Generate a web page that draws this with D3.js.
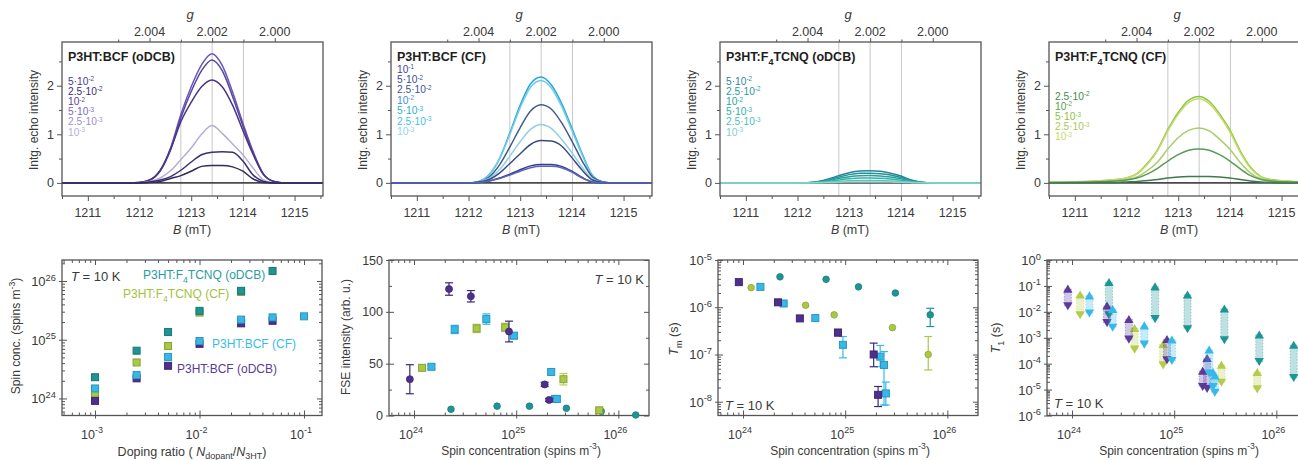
<!DOCTYPE html>
<html><head><meta charset="utf-8">
<script src="https://cdn.jsdelivr.net/npm/d3@7"></script>
<style>
body{margin:0;background:#fff;}
svg{display:block;font-family:"Liberation Sans",Arial,sans-serif;}
</style></head><body>
<svg id="c" width="1298" height="460"></svg>
<script>
// ---------------- DATA ----------------
// magnetic field grid (mT) for echo-detected spectra
const fieldB = [1210.5,1211.4,1211.8,1212.0,1212.2,1212.4,1212.6,1212.8,1213.0,1213.2,1213.4,1213.6,1213.8,1214.0,1214.2,1214.4,1214.6,1214.8,1215.2,1215.55];
const gTickLabels = [2.004, 2.002, 2.000];
const gLines = [2.003, 2.002, 2.001];

// Panel 1: P3HT:BCF (oDCB)
const specBcfO = [
 [0,0,0,0.01,0.06,0.26,0.72,1.41,1.98,2.43,2.66,2.42,1.87,1.23,0.64,0.18,0.03,0,0,0],
 [0,0,0,0.01,0.06,0.25,0.69,1.34,1.88,2.31,2.53,2.31,1.78,1.17,0.61,0.17,0.03,0,0,0],
 [0,0,0,0.01,0.06,0.25,0.68,1.26,1.66,1.98,2.12,1.98,1.6,1.08,0.58,0.17,0.03,0,0,0],
 [0,0,0,0,0.03,0.1,0.25,0.48,0.72,1.0,1.18,1.02,0.8,0.58,0.3,0.06,0,0,0,0],
 [0,0,0,0,0.02,0.06,0.13,0.26,0.43,0.58,0.63,0.64,0.63,0.45,0.16,0.03,0,0,0,0],
 [0,0,0,0,0.01,0.03,0.09,0.15,0.24,0.34,0.36,0.36,0.33,0.24,0.08,0.01,0,0,0,0]];
const specBcfOColors = ["#6a55b5","#5a45a0","#4a3585","#b4aed2","#3c2f75","#33295e"];
const legBcfO = [["5·10","-2"],["2.5·10","-2"],["10","-2"],["5·10","-3"],["2.5·10","-3"],["10","-3"]];
const legBcfOColors = ["#4a3a8c","#3e2a78","#5b3fa0","#7e6ab9","#9d8fcc","#b8aee0"];

// Panel 2: P3HT:BCF (CF)
const specBcfC = [
 [0,0,0,0,0.03,0.17,0.5,1.03,1.6,2.04,2.18,2.02,1.64,1.13,0.6,0.15,0.02,0,0,0],
 [0,0,0,0,0.03,0.16,0.5,1.0,1.55,1.97,2.11,1.96,1.58,1.08,0.57,0.14,0.02,0,0,0],
 [0,0,0,0,0.02,0.12,0.37,0.74,1.14,1.48,1.61,1.52,1.24,0.86,0.45,0.12,0.02,0,0,0],
 [0,0,0,0,0.02,0.09,0.27,0.55,0.85,1.1,1.2,1.12,0.9,0.62,0.32,0.08,0.01,0,0,0],
 [0,0,0,0,0.02,0.07,0.2,0.4,0.6,0.79,0.87,0.86,0.76,0.52,0.26,0.06,0.01,0,0,0],
 [0,0,0,0,0.01,0.04,0.1,0.18,0.27,0.35,0.38,0.38,0.34,0.24,0.11,0.02,0,0,0,0],
 [0,0,0,0,0.01,0.04,0.09,0.16,0.24,0.31,0.34,0.34,0.31,0.22,0.1,0.02,0,0,0,0]];
const specBcfCColors = ["#23a9d6","#72cbe6","#3f5d8e","#8fd0e3","#3b4a82","#3a3a8a","#5566b8"];
const legBcfC = [["10","-1"],["5·10","-2"],["2.5·10","-2"],["10","-2"],["5·10","-3"],["2.5·10","-3"],["10","-3"]];
const legBcfCColors = ["#4a3d9a","#3a4aa0","#3d5290","#3a8fd6","#2ab0d8","#45c0e8","#8fd8f0"];

// Panel 3: P3HT:F4TCNQ (oDCB)
const specF4O = [
 [0,0,0,0,0.005,0.03,0.08,0.15,0.21,0.245,0.25,0.24,0.2,0.14,0.06,0.015,0,0,0,0],
 [0,0,0,0,0.004,0.024,0.066,0.12,0.17,0.196,0.2,0.19,0.16,0.11,0.05,0.012,0,0,0,0],
 [0,0,0,0,0.003,0.018,0.05,0.09,0.126,0.147,0.15,0.144,0.12,0.083,0.038,0.009,0,0,0,0],
 [0,0,0,0,0.002,0.012,0.033,0.06,0.084,0.098,0.1,0.096,0.08,0.055,0.025,0.006,0,0,0,0],
 [0,0,0,0,0.001,0.006,0.017,0.03,0.042,0.049,0.05,0.048,0.04,0.028,0.013,0.003,0,0,0,0],
 [0,0,0,0,0,0.002,0.007,0.012,0.017,0.02,0.02,0.019,0.016,0.011,0.005,0.001,0,0,0,0]];
const specF4OColors = ["#2f7f99","#1f9595","#22a3a0","#3ab0aa","#5cc2bb","#8ad4cc"];
const legF4O = [["5·10","-2"],["2.5·10","-2"],["10","-2"],["5·10","-3"],["2.5·10","-3"],["10","-3"]];
const legF4OColors = ["#3a7fa0","#2a9a9a","#25a5a5","#30b0a8","#50c0b8","#80d0c8"];

// Panel 4: P3HT:F4TCNQ (CF)
const specF4C = [
 [0.01,0.04,0.07,0.1,0.19,0.4,0.68,1.1,1.45,1.7,1.78,1.68,1.42,1.09,0.66,0.32,0.13,0.07,0.03,0.02],
 [0.01,0.04,0.07,0.1,0.18,0.38,0.66,1.07,1.41,1.65,1.73,1.63,1.38,1.05,0.63,0.3,0.12,0.06,0.03,0.02],
 [0.01,0.03,0.05,0.07,0.12,0.25,0.43,0.7,0.93,1.08,1.13,1.07,0.9,0.69,0.42,0.2,0.08,0.04,0.02,0.01],
 [0.01,0.02,0.04,0.06,0.1,0.18,0.3,0.45,0.58,0.67,0.7,0.67,0.58,0.45,0.29,0.15,0.07,0.04,0.02,0.01],
 [0,0.01,0.01,0.02,0.03,0.05,0.07,0.1,0.12,0.13,0.13,0.13,0.12,0.1,0.07,0.04,0.02,0.01,0,0]];
const specF4CColors = ["#8cc63f","#c2dc6a","#a9cc6a","#5a9a5a","#3f7a4a"];
const legF4C = [["2.5·10","-2"],["10","-2"],["5·10","-3"],["2.5·10","-3"],["10","-3"]];
const legF4CColors = ["#3c8c4c","#5ca048","#8cc43c","#a8cc58","#c4dc6c"];

// Bottom panels: per material
const dopBcfO = [1e-3,2.5e-3,5e-3,1e-2,2.5e-2,5e-2];
const spinBcfO = [9.1e23,2.2e24,3.6e24,8.5e24,1.9e25,2.1e25];
const fseBcfO = [35,122,115,81,30,15];
const fseErrBcfO = [14,6,5.5,10,2,1.5];
const tmBcfO = [3.4e-6,1.27e-6,5.8e-7,2.9e-7,1.0e-7,1.4e-8];
const tmLoBcfO = [null,null,null,2.5e-7,5.5e-8,7.9e-9];
const tmHiBcfO = [null,null,null,3.4e-7,1.74e-7,2.1e-8];
const t1HiBcfO = [7.6e-2,1.7e-2,5.1e-3,8.7e-4,5.2e-5,1.6e-4];
const t1LoBcfO = [1.7e-2,3.8e-3,8.7e-4,1.4e-4,1.3e-5,1.1e-5];

const dopBcfC = [1e-3,2.5e-3,5e-3,1e-2,2.5e-2,5e-2,1e-1];
const spinBcfC = [1.48e24,2.5e24,5.1e24,9.5e24,2.2e25,2.4e25,2.5e25];
const fseBcfC = [47,83,93,77,42,16,16];
const fseErrBcfC = [2,4,5,3,2,2,2];
const tmBcfC = [2.7e-6,1.2e-6,5.9e-7,1.6e-7,9e-8,6e-8,1.5e-8];
const tmLoBcfC = [null,null,null,8.5e-8,5.5e-8,8.5e-9,8.5e-9];
const tmHiBcfC = [null,null,null,2.4e-7,1.55e-7,1.15e-7,2.6e-8];
const t1HiBcfC = [4.2e-2,1.26e-2,2.9e-3,8.3e-4,3.4e-4,4.6e-5,3.4e-5];
const t1LoBcfC = [8.9e-3,2.5e-3,5.6e-4,1.3e-4,4.3e-5,1.3e-5,7.8e-6];

const dopF4O = [1e-3,2.5e-3,5e-3,1e-2,2.5e-2,5e-2];
const spinF4O = [2.3e24,6.5e24,1.35e25,3.1e25,6.8e25,1.48e26];
const fseF4O = [6,9,9,7,4,0.5];
const tmF4O = [4.4e-6,3.9e-6,2.7e-6,2.0e-6,6.9e-7];
const tmLoF4O = [null,null,null,null,3.9e-7];
const tmHiF4O = [null,null,null,null,9.5e-7];
const t1HiF4O = [0.138,9.3e-2,4.5e-2,1.3e-2,1.3e-3,5.2e-4];
const t1LoF4O = [7.6e-3,5.4e-3,2.2e-3,8.3e-4,1.2e-4,2.9e-5];

const dopF4C = [1e-3,2.5e-3,5e-3,1e-2,2.5e-2];
const spinF4C = [1.2e24,4.1e24,7.8e24,2.9e25,6.5e25];
const fseF4C = [46,84,85,35,5];
const fseErrF4C = [2,4,4,5.5,1.5];
const tmF4C = [2.6e-6,1.1e-6,6.9e-7,3.7e-7,1.0e-7];
const tmLoF4C = [null,null,null,null,4.7e-8];
const tmHiF4C = [null,null,null,null,2.4e-7];
const t1HiF4C = [4.5e-2,2.3e-3,5.6e-4,8.9e-5,4.6e-5];
const t1LoF4C = [7.6e-3,3.6e-4,8.9e-5,1.9e-5,1.05e-5];

const cPurple = "#4e2f8c", cCyan = "#36b9e9", cGreen = "#a9c843", cTeal = "#1d9595";

// ---------------- DRAWING ----------------
const svg = d3.select("#c");
svg.append("rect").attr("width",1298).attr("height",460).attr("fill","#fff");
const AX = "#555", TXT = "#3a3a3a";

function rich(t, parts, fs, supK=0.42, supS=0.72) {
  let shift = 0;
  parts.forEach(p => {
    if (typeof p === "string") p = {t:p};
    const target = p.sup ? -supK*fs : (p.sub ? 0.3*fs : 0);
    const ts = t.append("tspan").text(p.t).attr("dy", target - shift);
    if (p.sup || p.sub) ts.attr("font-size", fs*supS);
    if (p.i) ts.attr("font-style","italic");
    shift = target;
  });
  return t;
}
function txt(g, x, y, parts, fs, opt={}) {
  const t = g.append("text").attr("x",x).attr("y",y).attr("font-size",fs)
    .attr("fill",opt.fill||TXT).attr("text-anchor",opt.anchor||"start");
  if (opt.weight) t.attr("font-weight",opt.weight);
  if (opt.rot) t.attr("transform",`rotate(-90,${x},${y})`);
  return rich(t, parts, fs, opt.supK||0.42, opt.supS||0.72);
}
function ticks(g, axisFn, scale, vals, size, tr, stroke=AX) {
  g.append("g").attr("transform",tr)
    .call(axisFn(scale).tickValues(vals).tickSize(size).tickFormat(""))
    .call(s => s.select(".domain").remove())
    .selectAll("line").attr("stroke",stroke).attr("stroke-width",1);
}

// ----- top panels -----
const topL = [62,391,720,1049], topW = 261, topT = 42, topB = 196;
const C_G = 1213.4*2.002;
const topPanels = [
  {title:["P3HT:BCF (oDCB)"], spec:specBcfO, colors:specBcfOColors, leg:legBcfO, legC:legBcfOColors, legY:84.5, legDy:10.2},
  {title:["P3HT:BCF (CF)"], spec:specBcfC, colors:specBcfCColors, leg:legBcfC, legC:legBcfCColors, legY:72.5, legDy:10.4},
  {title:["P3HT:F",{t:"4",sub:true},"TCNQ (oDCB)"], spec:specF4O, colors:specF4OColors, leg:legF4O, legC:legF4OColors, legY:84.5, legDy:10.2},
  {title:["P3HT:F",{t:"4",sub:true},"TCNQ (CF)"], spec:specF4C, colors:specF4CColors, leg:legF4C, legC:legF4CColors, legY:99.5, legDy:10.2}
];
topPanels.forEach((p,i) => {
  const L = topL[i], R = L+topW;
  const g = svg.append("g");
  const x = d3.scaleLinear().domain([1210.5,1215.55]).range([L,R]);
  const y = d3.scaleLinear().domain([-0.27,2.9]).range([topB,topT]);
  const gx = d3.scaleLinear().domain([C_G/1210.5, C_G/1215.55]).range([L,R]);
  g.selectAll(".gl").data(gLines).join("line")
    .attr("x1",d=>gx(d)).attr("x2",d=>gx(d)).attr("y1",topT).attr("y2",topB)
    .attr("stroke","#c8c8c8").attr("stroke-width",1);
  g.append("line").attr("x1",L).attr("x2",R).attr("y1",y(0)).attr("y2",y(0))
    .attr("stroke","#4a4a4a").attr("stroke-width",1.6);
  const line = d3.line().x((d,k)=>x(fieldB[k])).y(d=>y(d)).curve(d3.curveMonotoneX);
  p.spec.forEach((s,k) => {
    g.append("path").attr("d",line(s)).attr("fill","none")
      .attr("stroke",p.colors[k]).attr("stroke-width",1.5);
  });
  g.append("rect").attr("x",L).attr("y",topT).attr("width",topW).attr("height",topB-topT)
    .attr("fill","none").attr("stroke",AX).attr("stroke-width",1.3);
  ticks(g, d3.axisBottom, x, [1211,1212,1213,1214,1215], 5, `translate(0,${topB})`);
  ticks(g, d3.axisBottom, x, [1210.5,1211.5,1212.5,1213.5,1214.5,1215.5], 3, `translate(0,${topB})`);
  [1211,1212,1213,1214,1215].forEach(v => txt(g, x(v), 216.5, [String(v)], 12.5, {anchor:"middle"}));
  txt(g, L+130, 234, [{t:"B",i:true}," (mT)"], 12.5, {anchor:"middle"});
  ticks(g, d3.axisLeft, y, [0,1,2], 5, `translate(${L},0)`);
  ticks(g, d3.axisLeft, y, [0.5,1.5,2.5], 3, `translate(${L},0)`);
  [0,1,2].forEach(v => txt(g, L-8, y(v)+4.5, [String(v)], 12.5, {anchor:"end"}));
  txt(g, L-24, 120, ["Intg. echo intensity"], 12, {anchor:"middle", rot:true});
  ticks(g, d3.axisTop, gx, gTickLabels, 4, `translate(0,${topT})`);
  ticks(g, d3.axisTop, gx, [2.005,2.003,2.001], 2.5, `translate(0,${topT})`);
  gTickLabels.forEach(v => txt(g, gx(v), 36, [v.toFixed(3)], 12.5, {anchor:"middle"}));
  txt(g, L+128, 19, [{t:"g",i:true}], 13, {anchor:"middle"});
  txt(g, L+6, 61, p.title, 12.5, {weight:"bold", fill:"#1e1e1e"});
  p.leg.forEach((l,k) => {
    txt(g, L+6, p.legY + k*p.legDy, [l[0],{t:l[1],sup:true}], 10.2, {fill:p.legC[k], supK:0.32, supS:0.62});
  });
});

// ----- bottom panels -----
const botL = [62,389,718,1047], botW = 260, botT = 260, botB = 415.5;
function frameBox(g, L) {
  g.append("rect").attr("x",L).attr("y",botT).attr("width",botW).attr("height",botB-botT)
    .attr("fill","none").attr("stroke",AX).attr("stroke-width",1.3);
}
function logAxes(g, L, x, y, xMaj, yMaj, yLinear) {
  const R = L+botW;
  const xAll = x.ticks().filter(v => v>=x.domain()[0] && v<=x.domain()[1]);
  const xMin = xAll.filter(v => !xMaj.includes(v));
  ticks(g, d3.axisBottom, x, xMaj, -5, `translate(0,${botB})`);
  ticks(g, d3.axisBottom, x, xMaj, 3, `translate(0,${botB})`);
  ticks(g, d3.axisBottom, x, xMin, -3, `translate(0,${botB})`);
  ticks(g, d3.axisTop, x, xMaj, -5, `translate(0,${botT})`);
  ticks(g, d3.axisTop, x, xMin, -3, `translate(0,${botT})`);
  let yMin = [];
  if (!yLinear) {
    const yAll = y.ticks().filter(v => v>=y.domain()[0] && v<=y.domain()[1]);
    yMin = yAll.filter(v => !yMaj.some(m => Math.abs(m-v)/m < 1e-6));
  } else yMin = yLinear;
  ticks(g, d3.axisLeft, y, yMaj, -5, `translate(${L},0)`);
  ticks(g, d3.axisLeft, y, yMaj, 3, `translate(${L},0)`);
  ticks(g, d3.axisLeft, y, yMin, -3, `translate(${L},0)`);
  ticks(g, d3.axisRight, y, yMaj, -5, `translate(${R},0)`);
  ticks(g, d3.axisRight, y, yMin, -3, `translate(${R},0)`);
}
function xPowLabels(g, x, vals) {
  vals.forEach(v => txt(g, x(v)-3, 438.5, ["10",{t:String(Math.round(Math.log10(v))),sup:true}], 12.5, {anchor:"middle"}));
}
function yPowLabels(g, L, y, vals) {
  vals.forEach(v => txt(g, L-6, y(v)+5, ["10",{t:String(Math.round(Math.log10(v))),sup:true}], 13, {anchor:"end"}));
}
function sq(g, cx, cy, s, fill, stroke) {
  g.append("rect").attr("x",cx-s/2).attr("y",cy-s/2).attr("width",s).attr("height",s)
    .attr("fill",fill).attr("stroke",stroke||d3.color(fill).darker(0.6)).attr("stroke-width",1);
}
function dot(g, cx, cy, r, fill) {
  g.append("circle").attr("cx",cx).attr("cy",cy).attr("r",r).attr("fill",fill)
    .attr("stroke",d3.color(fill).darker(0.5)).attr("stroke-width",0.8);
}
function errbar(g, cx, y1, y2, color) {
  g.append("line").attr("x1",cx).attr("x2",cx).attr("y1",y1).attr("y2",y2).attr("stroke",color).attr("stroke-width",1.2);
  [y1,y2].forEach(yy => g.append("line").attr("x1",cx-4).attr("x2",cx+4).attr("y1",yy).attr("y2",yy).attr("stroke",color).attr("stroke-width",1.2));
}
const spinLabel = ["Spin concentration (spins m",{t:"-3",sup:true},")"];

// Panel 5: spin concentration vs doping ratio
{
  const L = botL[0], g = svg.append("g");
  const x = d3.scaleLog().domain([10**-3.316, 10**-0.828]).range([L, L+botW]);
  const y = d3.scaleLog().domain([10**23.71, 10**26.357]).range([botB, botT]);
  frameBox(g, L);
  logAxes(g, L, x, y, [1e-3,1e-2,1e-1], [1e24,1e25,1e26]);
  xPowLabels(g, x, [1e-3,1e-2,1e-1]);
  yPowLabels(g, L, y, [1e24,1e25,1e26]);
  txt(g, 20, 336, ["Spin conc. (spins m",{t:"-3",sup:true},")"], 12, {anchor:"middle", rot:true});
  txt(g, L+130, 455.5, ["Doping ratio ( ",{t:"N",i:true},{t:"dopant",sub:true},"/",{t:"N",i:true},{t:"3HT",sub:true},")"], 12.5, {anchor:"middle"});
  txt(g, 71, 281, [{t:"T",i:true}," = 10 K"], 13);
  const sets = [[dopF4C,spinF4C,cGreen],[dopBcfO,spinBcfO,cPurple],[dopBcfC,spinBcfC,cCyan],[dopF4O,spinF4O,cTeal]];
  sets.forEach(([dx,dy,c]) => dx.forEach((d,k) => sq(g, x(d), y(dy[k]), 7, c)));
  txt(g, 143, 279, ["P3HT:F",{t:"4",sub:true},"TCNQ (oDCB)"], 12, {fill:"#2a9ca0"});
  txt(g, 123, 298, ["P3HT:F",{t:"4",sub:true},"TCNQ (CF)"], 12, {fill:"#a2c23e"});
  txt(g, 212, 348, ["P3HT:BCF (CF)"], 12, {fill:"#3bbce8"});
  txt(g, 177, 373, ["P3HT:BCF (oDCB)"], 12, {fill:"#5a3a9a"});
}

const spinDomain = [10**23.755, 10**26.3];
// Panel 6: FSE intensity
{
  const L = botL[1], g = svg.append("g");
  const x = d3.scaleLog().domain(spinDomain).range([L, L+botW]);
  const y = d3.scaleLinear().domain([0,150]).range([botB, botT]);
  frameBox(g, L);
  logAxes(g, L, x, y, [1e24,1e25,1e26], [0,50,100,150], [25,75,125]);
  xPowLabels(g, x, [1e24,1e25,1e26]);
  [0,50,100,150].forEach(v => txt(g, L-6, y(v)+4.5, [String(v)], 12.5, {anchor:"end"}));
  txt(g, L-39, 337, ["FSE intensity (arb. u.)"], 12, {anchor:"middle", rot:true});
  txt(g, L+132, 454.5, spinLabel, 12, {anchor:"middle"});
  txt(g, 644, 284, [{t:"T",i:true}," = 10 K"], 13, {anchor:"end"});
  spinF4O.forEach((s,k) => dot(g, x(s), y(fseF4O[k]), 3.3, cTeal));
  spinF4C.forEach((s,k) => { errbar(g, x(s), y(fseF4C[k]-fseErrF4C[k]), y(fseF4C[k]+fseErrF4C[k]), "#b9cc5a"); sq(g, x(s), y(fseF4C[k]), 7, cGreen); });
  spinBcfC.forEach((s,k) => { errbar(g, x(s), y(fseBcfC[k]-fseErrBcfC[k]), y(fseBcfC[k]+fseErrBcfC[k]), cCyan); sq(g, x(s), y(fseBcfC[k]), 7, cCyan); });
  spinBcfO.forEach((s,k) => { errbar(g, x(s), y(fseBcfO[k]-fseErrBcfO[k]), y(fseBcfO[k]+fseErrBcfO[k]), "#3b2878"); dot(g, x(s), y(fseBcfO[k]), 3.5, cPurple); });
}

// Panel 7: Tm
{
  const L = botL[2], g = svg.append("g");
  const x = d3.scaleLog().domain(spinDomain).range([L, L+botW]);
  const y = d3.scaleLog().domain([10**-8.292, 1e-5]).range([botB, botT]);
  frameBox(g, L);
  logAxes(g, L, x, y, [1e24,1e25,1e26], [1e-8,1e-7,1e-6,1e-5]);
  xPowLabels(g, x, [1e24,1e25,1e26]);
  yPowLabels(g, L, y, [1e-8,1e-7,1e-6,1e-5]);
  txt(g, L-40, 339, [{t:"T",i:true},{t:"m",sub:true}," (s)"], 12.5, {anchor:"middle", rot:true});
  txt(g, L+132, 454.5, spinLabel, 12, {anchor:"middle"});
  txt(g, 725, 410, [{t:"T",i:true}," = 10 K"], 13);
  const sets = [
    [spinF4O, tmF4O, tmLoF4O, tmHiF4O, cTeal, "c"],
    [spinF4C, tmF4C, tmLoF4C, tmHiF4C, cGreen, "c"],
    [spinBcfC, tmBcfC, tmLoBcfC, tmHiBcfC, cCyan, "s"],
    [spinBcfO, tmBcfO, tmLoBcfO, tmHiBcfO, cPurple, "s"]];
  sets.forEach(([sp, v, lo, hi, c, m]) => v.forEach((val,k) => {
    const cx = x(sp[k]);
    if (lo[k] != null) errbar(g, cx, y(lo[k]), y(hi[k]), c === cPurple ? "#3b2878" : c);
    if (m === "c") dot(g, cx, y(val), 3.3, c); else sq(g, cx, y(val), 7, c);
  }));
}

// Panel 8: T1
{
  const L = botL[3], g = svg.append("g");
  const x = d3.scaleLog().domain(spinDomain).range([L, L+botW]);
  const y = d3.scaleLog().domain([1e-6, 1]).range([botB, botT]);
  frameBox(g, L);
  logAxes(g, L, x, y, [1e24,1e25,1e26], [1e-6,1e-5,1e-4,1e-3,1e-2,1e-1,1]);
  xPowLabels(g, x, [1e24,1e25,1e26]);
  yPowLabels(g, L, y, [1e-6,1e-5,1e-4,1e-3,1e-2,1e-1,1]);
  txt(g, L-47, 338, [{t:"T",i:true},{t:"1",sub:true}," (s)"], 12.5, {anchor:"middle", rot:true});
  txt(g, L+132, 454.5, spinLabel, 12, {anchor:"middle"});
  txt(g, 1054, 408, [{t:"T",i:true}," = 10 K"], 13);
  const tri = d3.symbol().type(d3.symbolTriangle).size(38);
  const sets = [
    [spinF4O, t1HiF4O, t1LoF4O, cTeal],
    [spinF4C, t1HiF4C, t1LoF4C, "#b5cc48"],
    [spinBcfO, t1HiBcfO, t1LoBcfO, "#5b3a9c"],
    [spinBcfC, t1HiBcfC, t1LoBcfC, cCyan]];
  sets.forEach(([sp, hi, lo, c]) => sp.forEach((s,k) => {
    const cx = x(s);
    g.append("rect").attr("x",cx-3.5).attr("y",y(hi[k])).attr("width",7).attr("height",y(lo[k])-y(hi[k]))
      .attr("fill",c).attr("fill-opacity",0.28).attr("stroke",c).attr("stroke-opacity",0.5)
      .attr("stroke-width",0.8).attr("stroke-dasharray","1.5,1.5");
    g.append("path").attr("d",tri).attr("transform",`translate(${cx},${y(hi[k])+1})`).attr("fill",c);
    g.append("path").attr("d",tri).attr("transform",`translate(${cx},${y(lo[k])-1}) rotate(180)`).attr("fill",c);
  }));
}
</script>
</body></html>
